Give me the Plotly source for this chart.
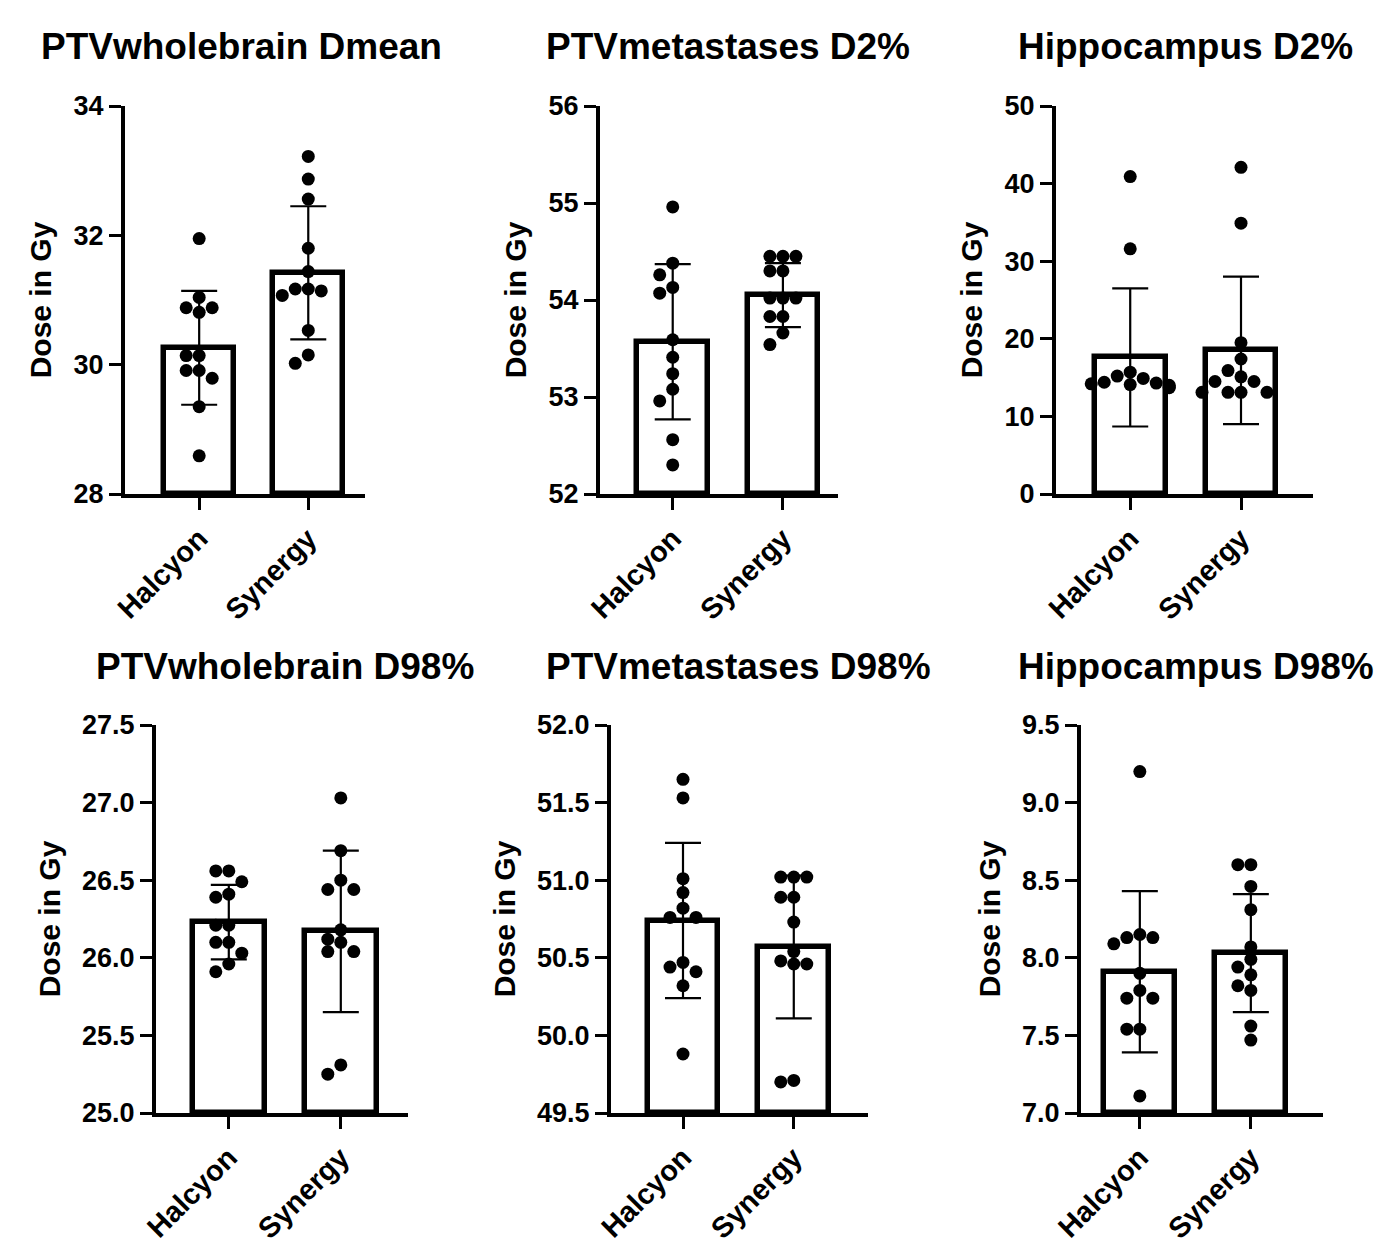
import plotly.graph_objects as go

groups = ["Halcyon", "Synergy"]
titles = ["PTVwholebrain Dmean", "PTVmetastases D2%", "Hippocampus D2%",
          "PTVwholebrain D98%", "PTVmetastases D98%", "Hippocampus D98%"]

wb_dmean_h = [31.95, 31.04, 30.81, 30.88, 30.88, 30.14, 30.14, 29.91, 29.91, 29.79, 29.35, 28.59]
wb_dmean_s = [33.22, 32.87, 32.56, 31.80, 31.44, 31.17, 31.17, 31.07, 31.14, 30.53, 30.15, 30.02]
met_d2_h = [54.96, 54.38, 54.26, 54.13, 54.07, 53.59, 53.41, 53.24, 53.08, 52.96, 52.56, 52.30]
met_d2_s = [54.45, 54.45, 54.45, 54.30, 54.30, 54.02, 54.02, 54.02, 53.83, 53.83, 53.66, 53.54]
hip_d2_h = [40.9, 31.6, 15.7, 14.4, 14.9, 14.1, 14.3, 15.2, 14.0, 14.2, 13.7, 13.8]
hip_d2_s = [42.1, 34.9, 19.5, 17.4, 15.9, 14.5, 14.5, 15.1, 13.1, 13.1, 13.1, 13.1]
wb_d98_h = [26.56, 26.56, 26.49, 26.39, 26.41, 26.21, 26.21, 26.10, 26.10, 26.03, 25.96, 25.91]
wb_d98_s = [27.03, 26.69, 26.50, 26.44, 26.44, 26.18, 26.10, 26.12, 26.04, 26.04, 25.31, 25.25]
met_d98_h = [51.65, 51.53, 51.01, 50.92, 50.82, 50.76, 50.76, 50.47, 50.44, 50.41, 50.32, 49.88]
met_d98_s = [51.02, 51.02, 51.02, 50.89, 50.89, 50.73, 50.54, 50.48, 50.46, 50.46, 49.70, 49.71]
hip_d98_h = [9.20, 8.15, 8.13, 8.13, 8.09, 7.90, 7.79, 7.74, 7.74, 7.54, 7.54, 7.11]
hip_d98_s = [8.60, 8.60, 8.46, 8.31, 8.07, 7.99, 7.94, 7.89, 7.82, 7.79, 7.56, 7.47]

means = [[30.26, 31.42], [53.57, 54.05], [17.6, 18.5], [26.23, 26.17], [50.74, 50.57], [7.91, 8.03]]
sds = [[0.88, 1.03], [0.80, 0.33], [8.9, 9.5], [0.24, 0.52], [0.50, 0.46], [0.52, 0.38]]
data = [(wb_dmean_h, wb_dmean_s), (met_d2_h, met_d2_s), (hip_d2_h, hip_d2_s),
        (wb_d98_h, wb_d98_s), (met_d98_h, met_d98_s), (hip_d98_h, hip_d98_s)]
yranges = [(28, 34), (52, 56), (0, 50), (25, 27.5), (49.5, 52), (7, 9.5)]
ydticks = [2, 1, 10, 0.5, 0.5, 0.5]
ytickfmt = ["d", "d", "d", ".1f", ".1f", ".1f"]

W, H = 1384, 1243
xdom_px = [(117, 357), (592, 830), (1048, 1305), (148, 400), (603, 860), (1073, 1315)]
xranges = [(-0.68, 1.52), (-0.66, 1.5), (-0.67, 1.65), (-0.65, 1.6), (-0.65, 1.67), (-0.53, 1.65)]
ydom_px = [(98, 486)] * 3 + [(717, 1105)] * 3
title_x_px = [233, 720, 1177, 277, 730, 1188]
title_y_px = [38, 38, 38, 658, 658, 658]

FONT = "Arial, Liberation Sans, sans-serif"


def swarm(vals, center, ppu_y, ppu_x, diam=13):
    placed = []
    xs = [0] * len(vals)
    order = sorted(range(len(vals)), key=lambda i: -vals[i])
    cands = [0, -1, 1, -2, 2, -3, 3]
    for i in order:
        yp = vals[i] * ppu_y
        xp = 0
        for c in cands:
            xp = c * diam
            if all(((xp - px) ** 2 + (yp - py) ** 2) >= (diam * 0.9) ** 2 for px, py in placed):
                break
        placed.append((xp, yp))
        xs[i] = center + xp / ppu_x
    return xs


fig = go.Figure()
for k in range(6):
    n = k + 1
    xa = "x" if n == 1 else f"x{n}"
    ya = "y" if n == 1 else f"y{n}"
    x0, x1 = xdom_px[k]
    yt, yb = ydom_px[k]
    ppu_x = (x1 - x0) / (xranges[k][1] - xranges[k][0])
    ppu_y = (yb - yt) / (yranges[k][1] - yranges[k][0])
    fig.add_trace(go.Bar(x=[0, 1], y=[means[k][0] - yranges[k][0], means[k][1] - yranges[k][0]],
                         base=yranges[k][0], width=0.64,
                         marker=dict(color="white", line=dict(color="black", width=5.5)),
                         xaxis=xa, yaxis=ya, showlegend=False))
    for g in range(2):
        vals = data[k][g]
        xs = swarm(vals, g, ppu_y, ppu_x)
        fig.add_trace(go.Scatter(x=xs, y=vals, mode="markers",
                                 marker=dict(color="black", size=13),
                                 xaxis=xa, yaxis=ya, showlegend=False))
    fig.add_trace(go.Scatter(x=[0, 1], y=means[k], mode="markers",
                             marker=dict(size=1, color="rgba(0,0,0,0)"),
                             error_y=dict(type="data", array=sds[k], color="black", thickness=2.2, width=18),
                             xaxis=xa, yaxis=ya, showlegend=False))
    fig.update_layout(**{
        ("xaxis" if n == 1 else f"xaxis{n}"): dict(
            domain=[x0 / W, x1 / W], range=list(xranges[k]), anchor=ya, automargin=False,
            tickvals=[0, 1], ticktext=groups, tickangle=-45,
            showline=True, linecolor="black", linewidth=4, ticks="outside",
            ticklen=12, tickwidth=3, tickcolor="black", showgrid=False, zeroline=False,
            tickfont=dict(size=29, family=FONT, color="black", weight="bold")),
        ("yaxis" if n == 1 else f"yaxis{n}"): dict(
            domain=[1 - yb / H, 1 - yt / H], range=list(yranges[k]), anchor=xa, automargin=False,
            dtick=ydticks[k], tick0=yranges[k][0], tickformat=ytickfmt[k],
            showline=True, linecolor="black", linewidth=4, ticks="outside",
            ticklen=12, tickwidth=3, tickcolor="black", showgrid=False, zeroline=False,
            tickfont=dict(size=27, family=FONT, color="black", weight="bold"),
            title=dict(text="<b>Dose in Gy</b>", standoff=14,
                       font=dict(size=30, family=FONT, color="black"))),
    })
    fig.add_annotation(text=f"<b>{titles[k]}</b>", x=title_x_px[k] / W, y=1 - title_y_px[k] / H,
                       xref="paper", yref="paper", showarrow=False, xanchor="center", yanchor="middle",
                       font=dict(size=37, family=FONT, color="black"))

fig.update_layout(width=W, height=H, margin=dict(l=0, r=0, t=0, b=0, autoexpand=False),
                  plot_bgcolor="white", paper_bgcolor="white", bargap=0)
fig.write_html("out.html")
